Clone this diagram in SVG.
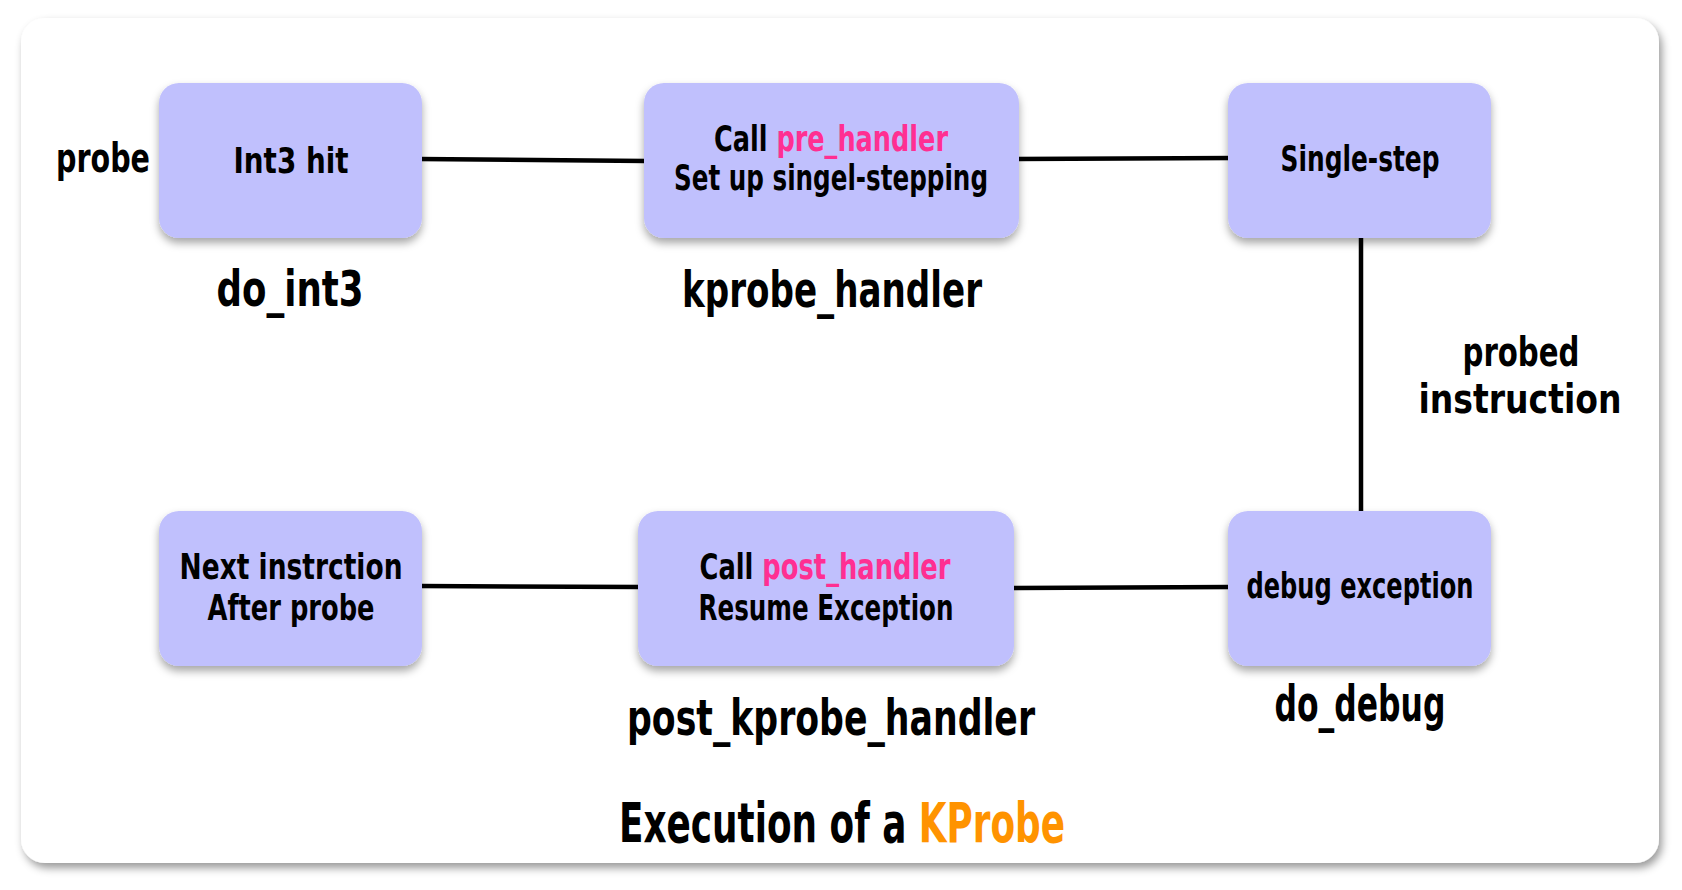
<svg xmlns="http://www.w3.org/2000/svg" width="1682" height="890" viewBox="0 0 1682 890">
  <defs>
    <filter id="cardShadow" x="-5%" y="-5%" width="110%" height="112%">
      <feDropShadow dx="3" dy="5" stdDeviation="4" flood-color="#000" flood-opacity="0.4"/>
    </filter>
    <filter id="nodeShadow" x="-10%" y="-10%" width="120%" height="130%">
      <feDropShadow dx="0" dy="5" stdDeviation="4" flood-color="#000" flood-opacity="0.35"/>
    </filter>
  </defs>
  <style>
    text { font-family: "Liberation Sans Narrow", "DejaVu Sans Condensed", "Roboto Condensed", "Liberation Sans", sans-serif; font-weight: bold; fill: #000; }
    .box { fill: #C0C0FD; filter: url(#nodeShadow); }
    .nt { font-size: 36px; text-anchor: middle; }
    .lbl { font-size: 50px; text-anchor: middle; }
    .side { font-size: 40px; text-anchor: middle; }
    .pink { fill: #FF2F92; }
    .orange { fill: #FF9300; }
    .conn { stroke: #000; stroke-width: 4.5; stroke-linecap: round; fill: none; }
  </style>
  <rect width="1682" height="890" fill="#ffffff"/>
  <rect id="card" x="21" y="18" width="1638" height="845" rx="24" fill="#ffffff" filter="url(#cardShadow)"/>

  <g id="connectors">
    <line class="conn" x1="419" y1="159" x2="646" y2="161"/>
    <line class="conn" x1="1016" y1="159" x2="1234" y2="158"/>
    <line class="conn" x1="1361" y1="236" x2="1361" y2="511"/>
    <line class="conn" x1="1231" y1="587" x2="1012" y2="588"/>
    <line class="conn" x1="641" y1="587" x2="420" y2="586"/>
  </g>

  <g id="node-int3">
    <rect class="box" x="159" y="83" width="263" height="155" rx="20"/>
    <text class="nt" x="291" y="173" textLength="115" lengthAdjust="spacingAndGlyphs">Int3 hit</text>
  </g>
  <g id="node-pre">
    <rect class="box" x="644" y="83" width="375" height="155" rx="20"/>
    <text class="nt" x="831" y="151" textLength="234" lengthAdjust="spacingAndGlyphs">Call <tspan class="pink">pre_handler</tspan></text>
    <text class="nt" x="831" y="190" textLength="314" lengthAdjust="spacingAndGlyphs">Set up singel-stepping</text>
  </g>
  <g id="node-single">
    <rect class="box" x="1228" y="83" width="263" height="155" rx="20"/>
    <text class="nt" x="1360" y="171" textLength="159" lengthAdjust="spacingAndGlyphs">Single-step</text>
  </g>
  <g id="node-next">
    <rect class="box" x="159" y="511" width="263" height="155" rx="20"/>
    <text class="nt" x="291" y="579" textLength="223" lengthAdjust="spacingAndGlyphs">Next instrction</text>
    <text class="nt" x="291" y="620" textLength="167" lengthAdjust="spacingAndGlyphs">After probe</text>
  </g>
  <g id="node-post">
    <rect class="box" x="638" y="511" width="376" height="155" rx="20"/>
    <text class="nt" x="825" y="579" textLength="251" lengthAdjust="spacingAndGlyphs">Call <tspan class="pink">post_handler</tspan></text>
    <text class="nt" x="826" y="620" textLength="255" lengthAdjust="spacingAndGlyphs">Resume Exception</text>
  </g>
  <g id="node-debug">
    <rect class="box" x="1228" y="511" width="263" height="155" rx="20"/>
    <text class="nt" x="1360" y="598" textLength="227" lengthAdjust="spacingAndGlyphs">debug exception</text>
  </g>

  <g id="labels">
    <text class="side" x="103" y="172" textLength="94" lengthAdjust="spacingAndGlyphs">probe</text>
    <text class="lbl" x="290" y="306" textLength="147" lengthAdjust="spacingAndGlyphs">do_int3</text>
    <text class="lbl" x="832" y="307" textLength="300" lengthAdjust="spacingAndGlyphs">kprobe_handler</text>
    <text class="side" x="1521" y="366" textLength="117" lengthAdjust="spacingAndGlyphs">probed</text>
    <text class="side" x="1520" y="413" textLength="203" lengthAdjust="spacingAndGlyphs">instruction</text>
    <text class="lbl" x="831" y="735" textLength="408" lengthAdjust="spacingAndGlyphs">post_kprobe_handler</text>
    <text class="lbl" x="1360" y="721" textLength="171" lengthAdjust="spacingAndGlyphs">do_debug</text>
  </g>

  <g id="title">
    <text x="842" y="842" font-size="56" text-anchor="middle" textLength="446" lengthAdjust="spacingAndGlyphs">Execution of a <tspan class="orange">KProbe</tspan></text>
  </g>
</svg>
